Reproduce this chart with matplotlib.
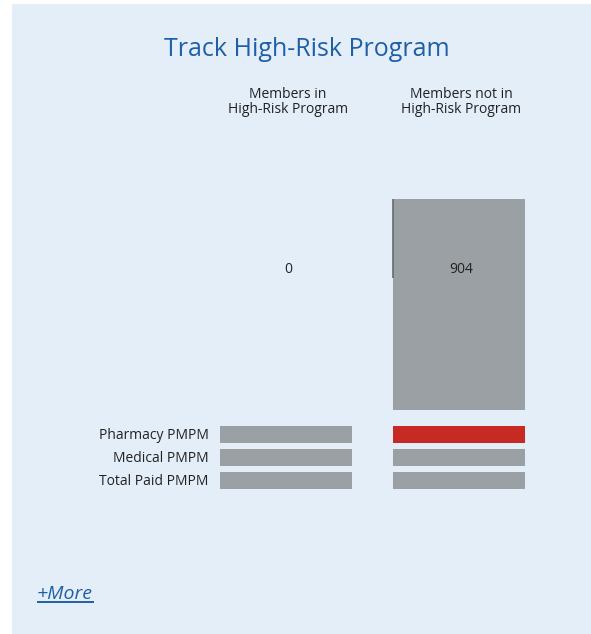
import matplotlib
matplotlib.use("Agg")
import matplotlib.pyplot as plt
from matplotlib.patches import Rectangle

# ---- data ----
title = "Track High-Risk Program"
groups = ["Members in\nHigh-Risk Program", "Members not in\nHigh-Risk Program"]
member_counts = [0, 904]
metrics = ["Pharmacy PMPM", "Medical PMPM", "Total Paid PMPM"]
# relative fill of each PMPM bar (bars are drawn full)
pmpm_in = [1.0, 1.0, 1.0]
pmpm_not = [1.0, 1.0, 1.0]
pmpm_not_flag = [True, False, False]  # highlighted (red) cells
more_text = "+More"

# ---- style ----
W, H = 591, 634
DPI = 100
BG = "#e4eef9"
GRAY = "#9ba0a4"
RED = "#c62a22"
BLUE = "#1f5fa8"
TXT = "#222222"
FONT = ["Open Sans", "DejaVu Sans"]
plt.rcParams["font.family"] = FONT

fig = plt.figure(figsize=(W / DPI, H / DPI), dpi=DPI)
fig.patch.set_facecolor("white")
fig.patches.append(Rectangle((12 / W, 0), 1 - 12 / W, (H - 4) / H,
                             transform=fig.transFigure, facecolor=BG,
                             edgecolor="none", zorder=-10))


def px_axes(x0, y0, x1, y1):
    """axes from pixel box (top-left origin)"""
    ax = fig.add_axes([x0 / W, 1 - y1 / H, (x1 - x0) / W, (y1 - y0) / H])
    ax.set_facecolor("none")
    ax.axis("off")
    return ax


# title
fig.text(307 / W, 1 - 56 / H, title, ha="center", va="baseline",
         fontsize=18, color=BLUE)

# ---- top member-count bars ----
col_left = [219.5, 392.5]
bar_w_px = 132.0
spacing = col_left[1] - col_left[0]
bw = bar_w_px / spacing
ax_top = px_axes(col_left[0], 199, col_left[1] + bar_w_px, 410)
xs = [0, 1]
ax_top.bar(xs, member_counts, width=bw, color=GRAY, align="center")
ax_top.set_xlim(-bw / 2, 1 + bw / 2)
ax_top.set_ylim(0, max(member_counts))
# thin edge line on the left of second bar (as in reference rendering)
ax_top.plot([1 - bw / 2, 1 - bw / 2], [max(member_counts) * (1 - 79 / 211), max(member_counts)],
            color="#666a6e", lw=1.2, solid_capstyle="butt")
for x, v in zip(xs, member_counts):
    ax_top.text(x + 3 / spacing, max(member_counts) * (1 - 70.5 / 211), f"{v}",
                ha="center", va="center", fontsize=10, color=TXT)

# column headers
for x, g in zip(col_left, groups):
    fig.text((x + bar_w_px / 2 + 2.5) / W, 1 - 102 / H, g, ha="center",
             va="center", fontsize=10, color=TXT, linespacing=0.95)

# ---- PMPM bars ----
row_c = [434.5, 457.5, 480.5]
row_sp = 23.0
bh = 16.5 / row_sp
for k, (vals, flags) in enumerate([(pmpm_in, [False] * 3), (pmpm_not, pmpm_not_flag)]):
    ax = px_axes(col_left[k], row_c[0] - row_sp / 2, col_left[k] + bar_w_px,
                 row_c[-1] + row_sp / 2)
    ys = list(range(len(metrics)))
    ax.barh(ys, vals, height=bh, color=[RED if f else GRAY for f in flags])
    ax.set_xlim(0, 1.0)
    ax.set_ylim(len(metrics) - 0.5, -0.5)
    if k == 0:
        for y, m in zip(ys, metrics):
            ax.text(-11 / bar_w_px, y + 0.04, m, ha="right", va="center",
                    fontsize=10, color=TXT, transform=ax.get_yaxis_transform())

# +More link
fig.text(37 / W, 1 - 599 / H, more_text, ha="left", va="baseline",
         fontsize=14, color=BLUE, style="italic")
fig.lines.append(plt.Line2D([38 / W, 93 / W], [1 - 602 / H, 1 - 602 / H],
                            transform=fig.transFigure, color=BLUE, lw=1.4))

fig.savefig("out.png", dpi=DPI, facecolor=fig.get_facecolor())
